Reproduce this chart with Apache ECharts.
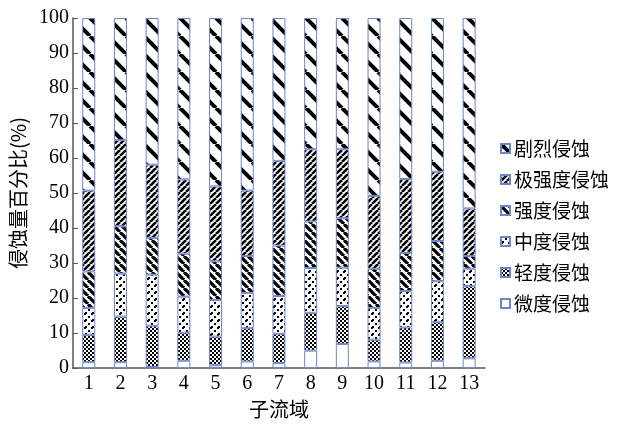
<!DOCTYPE html>
<html>
<head>
<meta charset="utf-8">
<script src="https://cdn.jsdelivr.net/npm/echarts@6/dist/echarts.min.js"></script>
<style>
  html, body { margin: 0; padding: 0; background: #fff; }
  #chart { width: 619px; height: 424px; }
</style>
</head>
<body>
<div id="chart"></div>
<script>
// 子流域编号
const basins = ['1', '2', '3', '4', '5', '6', '7', '8', '9', '10', '11', '12', '13'];
// 各等级侵蚀量百分比 (从下往上堆叠)
const weiDu = [1.7, 1.7, 0.3, 2.1, 0.8, 1.9, 1.4, 5.0, 6.9, 1.9, 1.6, 2.1, 2.8];
const qingDu = [7.8, 13.0, 11.8, 8.0, 8.2, 9.5, 8.4, 10.8, 10.8, 6.2, 10.0, 11.0, 20.6];
const zhongDu = [7.7, 12.3, 14.6, 10.3, 10.4, 10.1, 10.8, 12.8, 11.0, 9.1, 10.4, 11.7, 5.0];
const qiangDu = [10.4, 13.5, 10.5, 12.3, 11.1, 10.5, 14.4, 13.3, 14.1, 11.2, 10.9, 11.5, 3.6];
const jiQiangDu = [23.1, 24.6, 20.9, 21.2, 21.4, 18.7, 24.2, 20.6, 19.7, 20.8, 21.1, 19.8, 13.6];
const juLie = [49.3, 34.9, 41.9, 46.1, 48.1, 49.3, 40.8, 37.5, 37.5, 50.8, 46.0, 43.9, 54.4];
const yTicks = [0, 10, 20, 30, 40, 50, 60, 70, 80, 90, 100];

const chart = echarts.init(document.getElementById('chart'));

// 黑白填充图案
function pattern(size, draw) {
  const c = document.createElement('canvas');
  c.width = size;
  c.height = size;
  const ctx = c.getContext('2d');
  ctx.fillStyle = '#fff';
  ctx.fillRect(0, 0, size, size);
  ctx.fillStyle = '#000';
  ctx.strokeStyle = '#000';
  draw(ctx, size);
  return { image: c, repeat: 'repeat' };
}
function back(w) { // "\" 方向
  return function(ctx, s) {
    ctx.lineWidth = w;
    for (let k = -1; k <= 1; k++) {
      ctx.beginPath();
      ctx.moveTo(k * s, 0);
      ctx.lineTo(k * s + s, s);
      ctx.stroke();
    }
  };
}
function fwd(w) { // "/" 方向
  return function(ctx, s) {
    ctx.lineWidth = w;
    for (let k = -1; k <= 1; k++) {
      ctx.beginPath();
      ctx.moveTo(k * s, s);
      ctx.lineTo(k * s + s, 0);
      ctx.stroke();
    }
  };
}

const fills = {
  weiDu: '#fff',
  qingDu: pattern(4, function(ctx) {
    ctx.fillRect(0, 0, 2, 2);
    ctx.fillRect(2, 2, 2, 2);
  }),
  zhongDu: pattern(7, function(ctx) {
    ctx.fillRect(0, 5, 2, 2);
    ctx.fillRect(1, 4, 2, 2);
    ctx.fillRect(4, 1, 2, 2);
  }),
  qiangDu: pattern(8, back(3.2)),
  jiQiangDu: pattern(6, fwd(2.6)),
  juLie: pattern(18, back(4))
};

const border = '#6d86c8';
function bar(name, data, fill) {
  return {
    name: name,
    type: 'bar',
    stack: 'total',
    barWidth: 13,
    data: data,
    itemStyle: { color: fill, borderColor: border, borderWidth: 1 },
    emphasis: { disabled: true }
  };
}

const textFont = 'Liberation Serif, Noto Sans CJK SC, serif';
const option = {
  animation: false,
  backgroundColor: '#fff',
  grid: { left: 67, right: 134, top: 18, bottom: 54 },
  legend: {
    orient: 'vertical',
    left: 495,
    top: 134,
    itemWidth: 9,
    itemHeight: 9,
    itemGap: 12,
    icon: 'rect',
    selectedMode: false,
    textStyle: { fontSize: 19, color: '#000', fontFamily: 'Noto Sans CJK SC', padding: [0, 0, 0, -1] },
    data: ['剧烈侵蚀', '极强度侵蚀', '强度侵蚀', '中度侵蚀', '轻度侵蚀', '微度侵蚀']
  },
  xAxis: {
    type: 'category',
    data: basins,
    name: '子流域',
    nameLocation: 'middle',
    nameGap: 30,
    nameTextStyle: { fontSize: 20, color: '#000', fontFamily: 'Noto Sans CJK SC' },
    axisLine: { lineStyle: { color: '#555', width: 1.5 } },
    axisTick: { inside: true, length: 5, lineStyle: { color: '#555' } },
    axisLabel: { fontSize: 20, color: '#000', fontFamily: textFont, margin: 6 }
  },
  yAxis: {
    type: 'value',
    min: yTicks[0],
    max: yTicks[yTicks.length - 1],
    interval: 10,
    name: '侵蚀量百分比(%)',
    nameLocation: 'middle',
    nameRotate: 90,
    nameGap: 36,
    nameTextStyle: { fontSize: 20, color: '#000', fontFamily: 'Noto Sans CJK SC' },
    splitLine: { show: false },
    axisLine: { show: true, lineStyle: { color: '#555', width: 1.5 } },
    axisTick: { show: true, inside: true, length: 5, lineStyle: { color: '#555' } },
    axisLabel: { fontSize: 20, color: '#000', fontFamily: textFont, margin: 4 }
  },
  series: [
    bar('微度侵蚀', weiDu, fills.weiDu),
    bar('轻度侵蚀', qingDu, fills.qingDu),
    bar('中度侵蚀', zhongDu, fills.zhongDu),
    bar('强度侵蚀', qiangDu, fills.qiangDu),
    bar('极强度侵蚀', jiQiangDu, fills.jiQiangDu),
    bar('剧烈侵蚀', juLie, fills.juLie)
  ]
};
chart.setOption(option);
</script>
</body>
</html>
